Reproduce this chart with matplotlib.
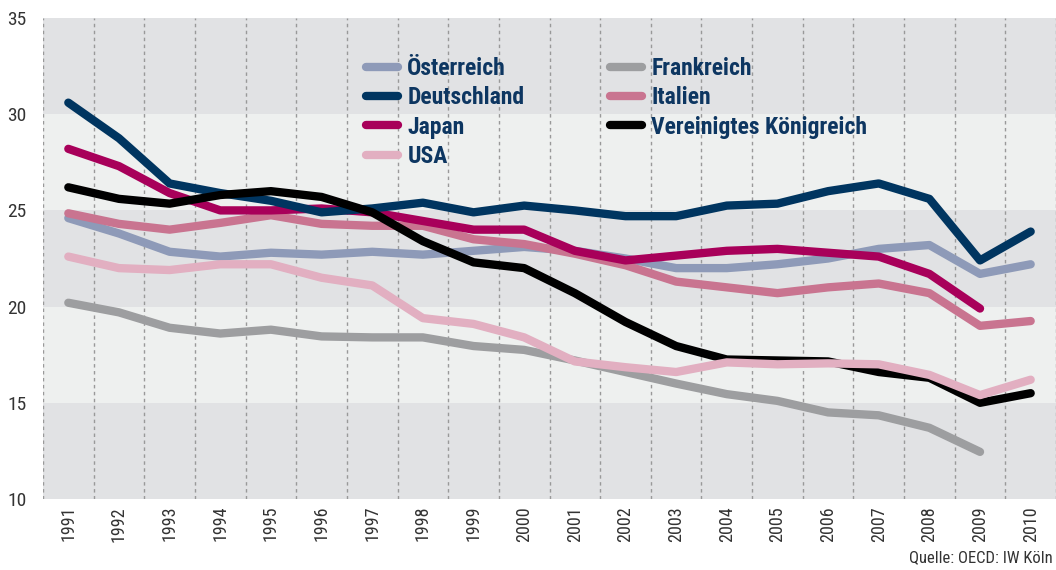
import numpy as np
import matplotlib
matplotlib.use("Agg")
import matplotlib.pyplot as plt
from matplotlib import font_manager as fm

years = list(range(1991, 2011))

oesterreich = [24.6, 23.8, 22.85, 22.6, 22.8, 22.7, 22.85, 22.7, 22.9, 23.1,
               22.9, 22.5, 22.0, 22.0, 22.2, 22.5, 23.0, 23.2, 21.7, 22.2]
deutschland = [30.6, 28.75, 26.4, 25.9, 25.5, 24.9, 25.1, 25.4, 24.9, 25.25,
               25.0, 24.7, 24.7, 25.25, 25.35, 26.0, 26.4, 25.6, 22.4, 23.9]
japan = [28.2, 27.3, 25.9, 25.0, 25.0, 25.1, 24.9, 24.45, 24.0, 24.0,
         22.9, 22.4, 22.65, 22.9, 23.0, 22.8, 22.6, 21.7, 19.9, np.nan]
usa = [22.6, 22.0, 21.9, 22.2, 22.2, 21.5, 21.1, 19.4, 19.1, 18.4,
       17.15, 16.85, 16.6, 17.1, 17.0, 17.05, 17.0, 16.45, 15.4, 16.2]
frankreich = [20.2, 19.7, 18.9, 18.6, 18.8, 18.45, 18.4, 18.4, 17.95, 17.75,
              17.2, 16.6, 16.0, 15.45, 15.1, 14.5, 14.35, 13.7, 12.45, np.nan]
italien = [24.85, 24.3, 24.0, 24.35, 24.75, 24.3, 24.2, 24.2, 23.5, 23.25,
           22.75, 22.15, 21.3, 21.0, 20.7, 21.0, 21.2, 20.7, 19.0, 19.25]
uk = [26.2, 25.6, 25.35, 25.8, 26.0, 25.7, 24.9, 23.4, 22.3, 22.0,
      20.7, 19.2, 17.95, 17.25, 17.2, 17.15, 16.6, 16.3, 15.0, 15.5]

col1 = [("Österreich", oesterreich, "#8e9ab8"),
        ("Deutschland", deutschland, "#003560"),
        ("Japan", japan, "#a8005a"),
        ("USA", usa, "#e2afc1")]
col2 = [("Frankreich", frankreich, "#9d9ea0"),
        ("Italien", italien, "#c97490"),
        ("Vereinigtes Königreich", uk, "#000000")]
zorders = {"Frankreich": 3, "Österreich": 4, "Italien": 5, "Japan": 6,
           "Deutschland": 7, "Vereinigtes Königreich": 8, "USA": 9}

# pick a narrow font if one is installed
names = {f.name for f in fm.fontManager.ttflist}
cond_dejavu = any(f.name == "DejaVu Sans" and "condensed" in str(f.stretch)
                  for f in fm.fontManager.ttflist)
if "Roboto Condensed" in names:
    fam, stretch, narrow_ok = ["Roboto Condensed", "DejaVu Sans"], "normal", True
elif "Liberation Sans Narrow" in names:
    fam, stretch, narrow_ok = ["Liberation Sans Narrow", "DejaVu Sans"], "normal", True
elif cond_dejavu:
    fam, stretch, narrow_ok = ["DejaVu Sans"], "condensed", True
else:
    fam, stretch, narrow_ok = ["DejaVu Sans"], "normal", False

tick_fs = 13 if narrow_ok else 11.5
leg_fs = 17 if narrow_ok else 14.5

fig = plt.figure(figsize=(10.56, 5.7), dpi=100)
ax = fig.add_axes([43 / 1056, 71 / 570, 1 - 43 / 1056, (499 - 18) / 570])
ax.set_facecolor("#eef0ef")
for lo in (10, 20, 30):
    ax.axhspan(lo, lo + 5, color="#e1e2e4", zorder=0, lw=0)
for x in np.arange(1990.5, 2011, 1):
    ax.axvline(x, color="#999999", lw=1, ls=(0, (2.5, 2.5)), zorder=1)

h1, h2 = [], []
for group, hs in ((col1, h1), (col2, h2)):
    for name, vals, c in group:
        h, = ax.plot(years, vals, color=c, lw=6, solid_capstyle="round",
                     solid_joinstyle="round", label=name, zorder=zorders[name])
        hs.append(h)

ax.set_xlim(1990.5, 2010.5)
ax.set_ylim(10, 35)
ax.set_xticks(years)
ax.set_xticklabels([str(y) for y in years], rotation=90, family=fam,
                   fontstretch=stretch, fontsize=tick_fs, color="#333333")
ax.set_yticks([10, 15, 20, 25, 30, 35])
ax.set_yticklabels(["10", "15", "20", "25", "30", "35"], family=fam,
                   fontstretch=stretch, fontsize=tick_fs + 1, color="#333333")
ax.tick_params(length=0)
ax.tick_params(axis="y", pad=12)
ax.tick_params(axis="x", pad=5)
for s in ax.spines.values():
    s.set_visible(False)

prop = fm.FontProperties(family=fam, weight="bold", size=leg_fs,
                         stretch=stretch)
legs = []
for hs, xpx in ((h1, 366), (h2, 610)):
    lg = ax.legend(handles=hs, loc="upper left",
                   bbox_to_anchor=((xpx - 43) / 1013, 1 - (57 - 18) / 481),
                   frameon=False, borderpad=0, borderaxespad=0,
                   handlelength=1.35, handletextpad=0.4, labelspacing=0.27,
                   prop=prop)
    for t in lg.get_texts():
        t.set_color("#0d3661")
    legs.append(lg)
ax.add_artist(legs[0])

fig.text(0.997, 0.008, "Quelle: OECD: IW Köln", ha="right", va="bottom",
         family=fam, fontstretch=stretch, fontsize=12, color="#333333")

fig.savefig("out.png", dpi=100)
